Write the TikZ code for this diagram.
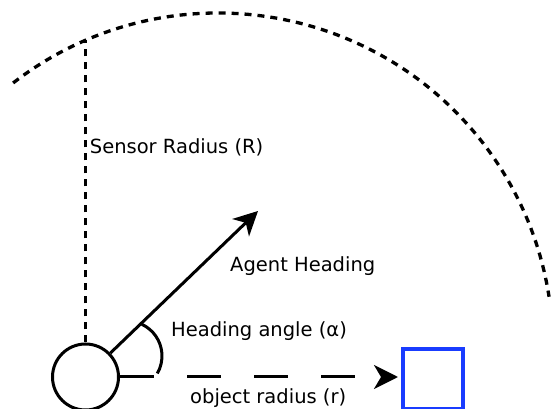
\documentclass[tikz,border=0pt]{standalone}
\usepackage{fontspec}
\setmainfont{DejaVu Sans}
\usetikzlibrary{arrows.meta}
\definecolor{objblue}{RGB}{25,60,255}
\begin{document}
\begin{tikzpicture}[x=1pt,y=1pt,
  lbl/.style={inner sep=0pt, anchor=base west, font=\fontsize{19.5}{23}\selectfont},
  stroke/.style={line width=3pt},
  rangeline/.style={line width=3.3pt, dash pattern=on 7pt off 6pt},
  headtip/.style={-{Stealth[length=24pt,width=24pt,inset=7pt]}}
]
\useasboundingbox (0,0) rectangle (551,409);

% sensor range boundary
\coordinate (range) at (218,61);
\draw[rangeline] (range) ++(127.7:335) arc[start angle=127.7, end angle=8.8, radius=335];

% agent and object
\node[draw, circle, stroke, minimum size=66pt, inner sep=0pt] (agent) at (85.5,32) {};
\node[draw=objblue, line width=4pt, minimum size=60pt, inner sep=0pt] (object) at (433,30.3) {};

% sensor radius
\coordinate (sensortop) at (85.5,368.5);
\draw[rangeline] (agent.north) -- (sensortop);

% heading arrow and angle
\coordinate (headend) at (258,198);
\draw[stroke, headtip] (agent) -- (headend);
\draw[stroke] (127,53) ++(65:35) arc[start angle=65, end angle=-30, radius=35];

% object radius
\draw[stroke, dash pattern=on 34pt off 33pt, headtip, shorten >=3pt] (agent.east) -- (agent.east -| object.west);

% labels
\node[lbl] (sensorlbl) at (89.7,255) {Sensor Radius (R)};
\node[lbl] (headlbl) at (230,137) {Agent Heading};
\node[lbl] (anglelbl) at (171,72) {Heading angle (α)};
\node[lbl] (objlbl) at (190,5.3) {object radius (r)};
\end{tikzpicture}
\end{document}
